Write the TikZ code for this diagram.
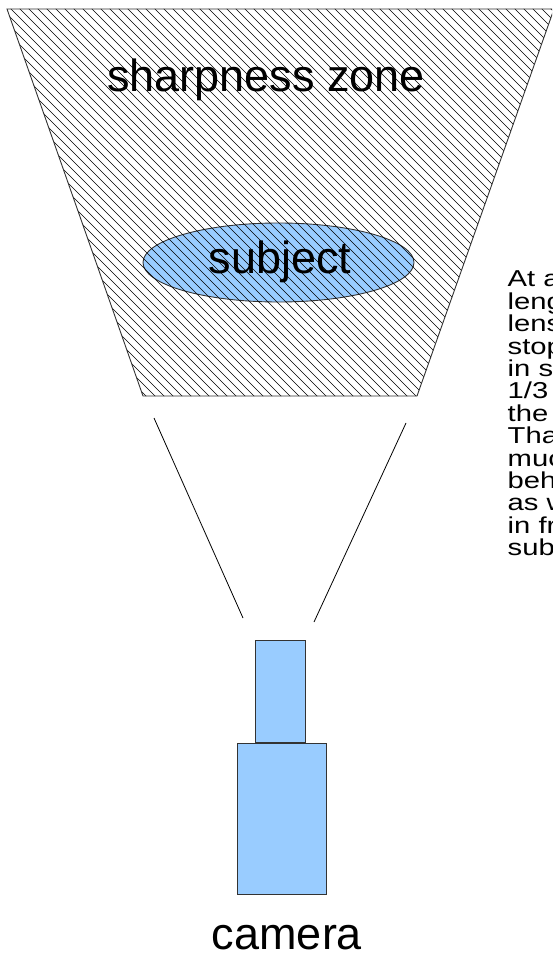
\documentclass[tikz,border=0pt]{standalone}
\usepackage{fontspec}
\setmainfont{Liberation Sans}
\newfontfamily\notefont[FakeStretch=1.27]{Liberation Sans}
\usetikzlibrary{shapes.geometric}
\definecolor{camblue}{HTML}{99CCFF}
\definecolor{edgegray}{HTML}{333333}
\begin{document}
\begin{tikzpicture}[x=1pt,y=-1pt,
  hatchline/.style={line width=0.65pt, black},
  outline/.style={draw=edgegray, line width=0.9pt},
  bluebox/.style={fill=camblue, draw=edgegray, line width=1pt, inner sep=0},
  bigtext/.style={font=\fontsize{45}{54}\selectfont, inner sep=0},
  notetext/.style={font=\notefont\fontsize{23}{22.4}\selectfont, inner sep=0, align=left},
  conline/.style={line width=0.8pt, black}]
\useasboundingbox (0,0) rectangle (552,957);
\clip (0,0) rectangle (552,957);

% corners of the sharpness zone
\coordinate (zTL) at (7,9);
\coordinate (zTR) at (554,9);
\coordinate (zBR) at (417,396);
\coordinate (zBL) at (143,396);

% subject
\node[ellipse, fill=camblue, draw=edgegray, line width=0.9pt, inner sep=0,
      minimum width=271, minimum height=79] (subj) at (278.5,262.5) {};

% hatching of the sharpness zone
\begin{scope}
  \clip (zTL) -- (zTR) -- (zBR) -- (zBL) -- cycle;
  \foreach \c in {-394,-385,...,560}
    \draw[hatchline] (\c,0) -- (\c+410,410);
\end{scope}
\draw[outline] (zTL) -- (zTR) -- (zBR) -- (zBL) -- cycle;

% labels
\node[bigtext, anchor=base] (zonelabel) at (266,92) {sharpness zone};
\node[bigtext, anchor=base] (subjlabel) at (280,274) {subject};

% field of view of the camera
\coordinate (coneLtop) at (154,418);
\coordinate (coneLbot) at (243,618);
\coordinate (coneRtop) at (406,423);
\coordinate (coneRbot) at (314,622);
\draw[conline] (coneLtop) -- (coneLbot);
\draw[conline] (coneRtop) -- (coneRbot);

% camera: lens and body
\node[bluebox, minimum width=50, minimum height=102, anchor=north west] (lens) at (255,640) {};
\node[bluebox, minimum width=89, minimum height=151, anchor=north west] (body) at (237,743) {};
\node[bigtext, anchor=base] (camlabel) at (287,949) {camera};

% explanatory note
\node[notetext, anchor=north west] (note) at (507.5,270) {At a given focal\\
length of the\\
lens and aperture\\
stop, the zone\\
in sharpness is\\
1/3 in front of\\
the subject.\\
That means\\
much more lies\\
behind the subject\\
as well as\\
in front of the\\
subject.};
\end{tikzpicture}
\end{document}
